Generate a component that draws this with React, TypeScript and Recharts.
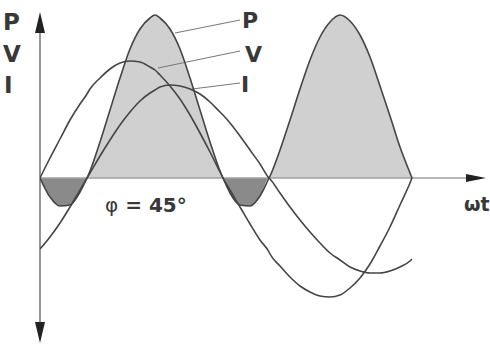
import { ComposedChart, Area, Line, XAxis, YAxis, ReferenceLine, ReferenceDot } from 'recharts';

// phase angle axis (1 unit ≈ 1 px ≈ 1°)
const wt = [0, 10, 20, 30, 40, 47, 50, 60, 70, 80, 90, 100, 110, 115, 120, 130, 140, 150, 160, 170, 180, 183, 190, 200, 210, 220, 229, 230, 240, 250, 260, 270, 280, 290, 300, 310, 320, 330, 340, 350, 360, 370, 372];
const voltage = [0, 20, 39, 58, 74, 84, 89, 100, 109, 115, 117, 116, 111, 108, 103, 92, 79, 63, 45, 26, 6, 0, -12, -29, -46, -62, -74, -76, -88, -99, -108, -114, -118, -119, -117, -110, -100, -86, -68, -49, -27, -5, 0];
const current = [-71, -59, -45, -29, -12, 0, 5, 22, 38, 53, 66, 77, 85, 88, 91, 93, 92, 89, 84, 76, 66, 63, 55, 42, 28, 14, 0, -1, -15, -29, -42, -54, -65, -75, -82, -89, -93, -95, -95, -93, -89, -83, -81];
const power = [0, -19, -28, -27, -14, 0, 7, 36, 68, 100, 129, 149, 160, 163, 160, 149, 129, 100, 68, 36, 7, 0, -15, -27, -28, -18, 0, 2, 28, 58, 89, 118, 141, 156, 163, 157, 143, 121, 92, 62, 31, 5, 0];

const data = wt.map((t, i) => ({
  t,
  v: voltage[i],
  i: current[i],
  p: power[i],
  pPos: Math.max(0, power[i]),
  pNeg: Math.min(0, power[i]),
}));

const CURVE = '#454545';
const TEXT = '#383838';
const FONT = '"DejaVu Sans", Verdana, sans-serif';

function ArrowUp({ cx, cy }: any) {
  return <polygon points={`${cx},${cy} ${cx - 5},${cy + 21} ${cx + 5},${cy + 21}`} fill="#222" />;
}
function ArrowDown({ cx, cy }: any) {
  return <polygon points={`${cx},${cy} ${cx - 5},${cy - 21} ${cx + 5},${cy - 21}`} fill="#222" />;
}
function ArrowRight({ cx, cy }: any) {
  return <polygon points={`${cx},${cy} ${cx - 20},${cy - 4} ${cx - 20},${cy + 4}`} fill="#222" />;
}

export default function App() {
  return (
    <div style={{ position: 'absolute', left: 0, top: 0, width: 490, height: 347, background: '#fff', overflow: 'hidden' }}>
      <ComposedChart width={490} height={347} data={data} margin={{ top: 0, right: 0, bottom: 0, left: 40 }}>
        <XAxis dataKey="t" type="number" domain={[0, 450]} hide allowDataOverflow />
        <YAxis type="number" domain={[-169, 178]} hide allowDataOverflow />

        <Area dataKey="pPos" type="monotone" baseValue={0} fill="#d0d0d0" fillOpacity={1} stroke="none" dot={false} activeDot={false} isAnimationActive={false} />
        <Area dataKey="pNeg" type="monotone" baseValue={0} fill="#8a8a8a" fillOpacity={1} stroke="none" dot={false} activeDot={false} isAnimationActive={false} />

        <ReferenceLine segment={[{ x: 0, y: 0 }, { x: 440, y: 0 }]} stroke="#a0a0a0" strokeWidth={1.6} ifOverflow="visible" />
        <ReferenceLine segment={[{ x: 0, y: 160 }, { x: 0, y: -160 }]} stroke="#6a6a6a" strokeWidth={1.4} ifOverflow="visible" />
        <ReferenceDot x={0} y={166} r={0} shape={ArrowUp} ifOverflow="visible" />
        <ReferenceDot x={0} y={-165} r={0} shape={ArrowDown} ifOverflow="visible" />
        <ReferenceDot x={446} y={0} r={0} shape={ArrowRight} ifOverflow="visible" />

        {/* leader lines to the right-hand labels */}
        <ReferenceLine segment={[{ x: 135, y: 145 }, { x: 200, y: 158 }]} stroke="#777" strokeWidth={1} ifOverflow="visible" />
        <ReferenceLine segment={[{ x: 118, y: 110 }, { x: 200, y: 127 }]} stroke="#777" strokeWidth={1} ifOverflow="visible" />
        <ReferenceLine segment={[{ x: 152, y: 89 }, { x: 200, y: 95 }]} stroke="#777" strokeWidth={1} ifOverflow="visible" />

        <Line dataKey="v" type="monotone" stroke={CURVE} strokeWidth={1.6} dot={false} activeDot={false} isAnimationActive={false} />
        <Line dataKey="i" type="monotone" stroke={CURVE} strokeWidth={1.6} dot={false} activeDot={false} isAnimationActive={false} />
        <Line dataKey="p" type="monotone" stroke={CURVE} strokeWidth={1.6} dot={false} activeDot={false} isAnimationActive={false} />
      </ComposedChart>

      <svg width={490} height={347} style={{ position: 'absolute', left: 0, top: 0, pointerEvents: 'none' }}>
        <g fontFamily={FONT} fontWeight="bold" fill={TEXT}>
          <text x={3} y={30} fontSize={23}>P</text>
          <text x={3} y={62} fontSize={23}>V</text>
          <text x={4} y={93} fontSize={23}>I</text>
          <text x={242} y={28} fontSize={22}>P</text>
          <text x={245} y={62} fontSize={22}>V</text>
          <text x={241} y={92} fontSize={22}>I</text>
          <text x={105} y={212} fontSize={20}>
            <tspan fontWeight="normal">φ</tspan>
            <tspan> = 45°</tspan>
          </text>
          <text x={464} y={211} fontSize={19}>ωt</text>
        </g>
      </svg>
    </div>
  );
}
